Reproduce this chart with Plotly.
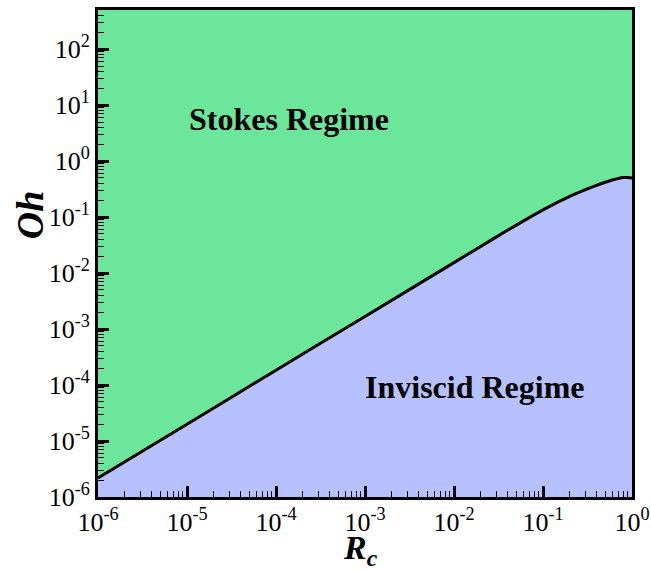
import numpy as np
import plotly.graph_objects as go

# Regime boundary: critical Ohnesorge number vs. R_c
rc = [1e-6, 1e-5, 1e-4, 1e-3, 1e-2, 0.03, 0.1, 0.2, 0.3, 0.4, 0.5, 0.6, 0.7, 0.8, 0.9, 1.0]
oh = [2.19e-6, 2.0e-5, 1.84e-4, 1.68e-3, 0.0154, 0.0444, 0.135, 0.235, 0.31, 0.37,
      0.42, 0.46, 0.49, 0.51, 0.51, 0.50]

x_exp = [-6, -5, -4, -3, -2, -1, 0]
y_exp = [-6, -5, -4, -3, -2, -1, 0, 1, 2]
x_range = (-6, 0)
y_range = (-6, 2.7)

green = "rgb(107,230,155)"
blue = "rgb(184,193,255)"
font_family = "Liberation Serif, Times New Roman, serif"

y_floor = 10 ** y_range[0]


def minor_vals(lo, hi):
    return [k * 10.0 ** e for e in range(int(np.floor(lo)), int(np.ceil(hi)) + 1)
            for k in range(2, 10) if lo <= np.log10(k * 10.0 ** e) <= hi]


fig = go.Figure()

# Inviscid region (below the boundary)
fig.add_trace(go.Scatter(
    x=rc + [rc[-1], rc[0]],
    y=oh + [y_floor, y_floor],
    fill="toself", fillcolor=blue, mode="none",
    hoverinfo="skip", showlegend=False,
))

# Boundary curve
fig.add_trace(go.Scatter(
    x=rc, y=oh, mode="lines",
    line=dict(color="black", width=3, shape="spline", smoothing=0.5),
    showlegend=False,
))

tick_font = dict(family=font_family, size=26, color="black")
title_font = dict(family=font_family, size=38, color="black")

axis_common = dict(
    type="log",
    ticks="inside", ticklen=11, tickwidth=2.5, tickcolor="black",
    showline=True, linecolor="black", linewidth=3, mirror=True,
    showgrid=False, zeroline=False, tickfont=tick_font, automargin=False,
)

fig.update_xaxes(
    range=list(x_range),
    tickvals=[10 ** e for e in x_exp],
    ticktext=[f"10<sup>{e}</sup>" for e in x_exp],
    minor=dict(tickvals=minor_vals(*x_range), ticks="inside", ticklen=6,
               tickwidth=1.2, tickcolor="black", showgrid=False),
    **axis_common,
)
fig.update_yaxes(
    range=list(y_range),
    tickvals=[10 ** e for e in y_exp],
    ticktext=[f"10<sup>{e}</sup>" for e in y_exp],
    minor=dict(tickvals=minor_vals(*y_range), ticks="inside", ticklen=6,
               tickwidth=1.2, tickcolor="black", showgrid=False),
    **axis_common,
)

# Axis titles
fig.add_annotation(xref="paper", yref="paper", x=-0.127, y=0.579,
                   xanchor="center", yanchor="middle",
                   text="<b><i>Oh</i></b>", textangle=-90,
                   showarrow=False, font=title_font)
fig.add_annotation(xref="paper", yref="paper", x=0.491, y=-0.109,
                   xanchor="center", yanchor="middle", borderpad=0,
                   text="<b><i>R<sub>c</sub></i></b>",
                   showarrow=False, font=dict(family=font_family, size=34, color="black"))

# Region labels
label_font = dict(family=font_family, size=32, color="black")
fig.add_annotation(x=-3.854, y=0.75, text="<b>Stokes Regime</b>",
                   showarrow=False, font=label_font)
fig.add_annotation(x=-1.764, y=-4.03, text="<b>Inviscid Regime</b>",
                   showarrow=False, font=label_font)

fig.update_layout(
    width=651, height=572,
    margin=dict(l=98, r=19, t=10, b=75),
    plot_bgcolor=green, paper_bgcolor="white",
    font=dict(family=font_family),
)

fig.write_html("out.html")
